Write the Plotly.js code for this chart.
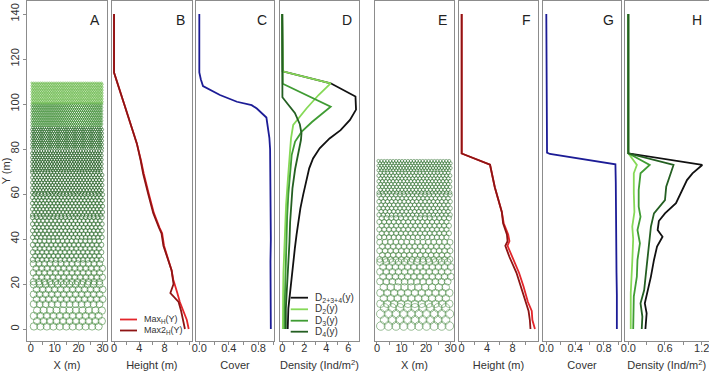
<!DOCTYPE html>
<html><head><meta charset="utf-8">
<script src="https://cdn.plot.ly/plotly-3.0.1.min.js"></script>
<style>html,body{margin:0;padding:0;background:#fff}#chart{width:709px;height:372px}</style>
</head><body><div id="chart"></div>
<script>
// ================= DATA =================
const yTickVals = [0, 20, 40, 60, 80, 100, 120, 140];
const xTicksStand = [0, 10, 20, 30];
const xTicksHeight = [0, 4, 8];
const xTicksCover = [0, 0.4, 0.8];
const xTextCover = ['0.0', '0.4', '0.8'];
const xTicksDens1 = [0, 2, 4, 6];
const xTicksDens2 = [0, 0.6, 1.2];
const xTextDens2 = ['0.0', '0.6', '1.2'];
const panelLabels = ['A', 'B', 'C', 'D', 'E', 'F', 'G', 'H'];
const axisTitles = ['X (m)', 'Height (m)', 'Cover', 'Density (Ind/m<sup>2</sup>)',
                    'X (m)', 'Height (m)', 'Cover', 'Density (Ind/m<sup>2</sup>)'];
const yTitle = 'Y (m)';

// Stand 1 (panel A): bands along Y, crown diameter (m), spacing (m)
const standA_y0 = [0, 10, 20, 30, 40, 50, 60, 70, 80, 90, 100];
const standA_y1 = [10, 20, 30, 40, 50, 60, 70, 80, 90, 100, 110];
const standA_diam = [3.2, 3.0, 2.8, 2.3, 2.0, 1.8, 1.5, 1.3, 1.1, 0.9, 0.7];
const standA_gap = [2.7, 2.5, 2.3, 1.9, 1.7, 1.5, 1.3, 1.1, 0.95, 0.85, 0.75];
// Stand 2 (panel E)
const standE_y0 = [0, 10, 20, 30, 40, 50, 60, 70];
const standE_y1 = [10, 20, 30, 40, 50, 60, 70, 75.5];
const standE_diam = [3.6, 3.2, 2.9, 2.5, 2.2, 1.9, 1.6, 1.3];
const standE_gap = [3.1, 2.8, 2.5, 2.2, 1.95, 1.7, 1.45, 1.2];

// Panel B: max heights
const yB = [140, 114, 100, 90, 82.5, 75, 69, 60, 51.5, 45, 42.5, 37, 31, 26, 22, 20, 16, 12, 8, 4, 0];
const maxH_B = [0, 0, 1.6, 2.8, 3.6, 4.25, 4.7, 5.5, 6.3, 7.2, 7.6, 7.9, 8.6, 9.1, 9.35, 9.6, 10.0, 10.4, 11.0, 11.5, 11.8];
const max2H_B = [0, 0, 1.6, 2.8, 3.6, 4.2, 4.6, 5.4, 6.2, 7.1, 7.5, 7.8, 8.5, 9.1, 9.3, 9.4, 8.9, 10.2, 10.6, 10.9, 11.2];

// Panel C: cover
const yC = [140, 114, 111, 108, 104, 101, 99.5, 98, 94, 90, 85, 80, 70, 60, 50, 40, 30, 20, 10, 0];
const coverC = [0, 0, 0.02, 0.05, 0.28, 0.51, 0.71, 0.78, 0.91, 0.93, 0.95, 0.96, 0.965, 0.97, 0.965, 0.97, 0.965, 0.97, 0.97, 0.97];

// Panel D: densities
const yD_tot = [140, 114.5, 109.2, 103.3, 97.5, 92.9, 88.4, 84.7, 80.3, 75.8, 71.4, 65.5, 59.6, 53.6, 47.7, 41.8, 35.9, 29.9, 24, 18.1, 9.2, 0];
const dD_tot = [0, 0.05, 4.4, 6.65, 6.7, 6.15, 5.3, 4.3, 3.4, 2.8, 2.45, 2.15, 1.9, 1.65, 1.45, 1.3, 1.15, 1.02, 0.87, 0.72, 0.56, 0.5];
const yD_2 = [140, 114.5, 109.2, 104, 98, 93.6, 90.7, 84.7, 77.3, 70, 65.5, 55, 48, 40, 32, 25, 15, 5, 0];
const dD_2 = [0, 0.05, 4.4, 3.3, 2.2, 1.45, 1.0, 0.8, 0.66, 0.58, 0.5, 0.35, 0.28, 0.2, 0.15, 0.11, 0.08, 0.06, 0.06];
const yD_3 = [140, 109, 98.8, 92, 87.7, 83.3, 77.3, 70, 60, 50, 40, 33, 25, 18, 10, 0];
const dD_3 = [0, 0.05, 4.4, 2.7, 1.77, 1.17, 0.86, 0.72, 0.56, 0.45, 0.38, 0.32, 0.29, 0.26, 0.22, 0.2];
const yD_4 = [140, 103, 100, 96, 91, 87, 84, 79, 71, 62.5, 55, 47.7, 38.8, 30, 18, 9, 0];
const dD_4 = [0, 0.02, 0.5, 1.15, 1.6, 1.75, 1.7, 1.47, 1.17, 0.93, 0.81, 0.72, 0.66, 0.56, 0.42, 0.33, 0.33];

// Panel F: max heights
const yF = [140, 78, 73, 63, 52, 47, 42, 39, 37, 32, 25, 19, 12, 8, 4, 0];
const maxH_F = [0, 0, 4.45, 5.2, 6.3, 6.6, 7.3, 7.5, 7.2, 8.0, 9.0, 9.7, 10.4, 11.0, 11.1, 11.5];
const max2H_F = [0, 0, 4.45, 5.2, 6.3, 6.5, 7.1, 7.2, 6.85, 7.5, 8.6, 9.3, 10.1, 10.5, 10.7, 10.8];

// Panel G: cover
const yG = [140, 79.6, 78.4, 77.8, 73.2, 65, 55, 45, 35, 25, 15, 5, 0];
const coverG = [0, 0, 0.01, 0.05, 0.96, 0.965, 0.965, 0.97, 0.975, 0.975, 0.98, 0.985, 0.98];

// Panel H: densities
const yH_tot = [140, 78.1, 72.9, 69.2, 66.2, 60.3, 55.9, 51.4, 48, 44, 41, 36.6, 30.7, 23.3, 15.9, 11.4, 7, 0];
const dH_tot = [0, 0, 1.21, 1.05, 0.96, 0.86, 0.78, 0.6, 0.5, 0.48, 0.56, 0.47, 0.42, 0.37, 0.31, 0.27, 0.3, 0.28];
const yH_4 = [140, 78.1, 72.9, 63.2, 57.3, 52.9, 51.4, 45.5, 42.5, 36.6, 27.7, 17.3, 13, 11.4, 5.5, 0];
const dH_4 = [0, 0, 0.74, 0.62, 0.6, 0.47, 0.42, 0.37, 0.36, 0.34, 0.3, 0.26, 0.22, 0.2, 0.23, 0.22];
const yH_3 = [140, 78.1, 72.9, 69.2, 61.8, 54.4, 49.9, 44, 38.1, 30.7, 23.3, 14.4, 0];
const dH_3 = [0, 0, 0.35, 0.2, 0.17, 0.17, 0.2, 0.15, 0.19, 0.15, 0.14, 0.09, 0.08];
const yH_2 = [140, 78.1, 72.9, 69.2, 60.3, 52, 45.5, 40, 30, 15.9, 0];
const dH_2 = [0, 0, 0.14, 0.09, 0.09, 0.1, 0.065, 0.08, 0.065, 0.04, 0.04];

const seriesNames = {
  maxH: 'Max<sub>H</sub>(Y)', max2H: 'Max2<sub>H</sub>(Y)',
  dTot: 'D<sub>2+3+4</sub>(y)', d2: 'D<sub>2</sub>(y)', d3: 'D<sub>3</sub>(y)', d4: 'D<sub>4</sub>(y)'
};

// ================= STYLE / LAYOUT =================
const W = 709, H = 372;
const M = {l: 27, r: 0, t: 1, b: 31};
const PW = W - M.l - M.r, PH = H - M.t - M.b;
const panelL = [27, 112, 196, 280, 375, 459, 543, 625];
const panelR = [107, 191.7, 274, 359, 454, 538, 621, 708.5];
const xRanges = [[-1.55, 31.88], [-0.32, 12.27], [-0.045, 1.013], [-0.2, 6.97],
                 [-0.81, 31.34], [-0.42, 11.98], [-0.046, 1.0375], [-0.054, 1.312]];
const yRange = [-5.33, 145.78];
const xTV = [xTicksStand, xTicksHeight, xTicksCover, xTicksDens1, xTicksStand, xTicksHeight, xTicksCover, xTicksDens2];
const xTT = [xTicksStand.map(String), xTicksHeight.map(String), xTextCover, xTicksDens1.map(String),
             xTicksStand.map(String), xTicksHeight.map(String), xTextCover, xTextDens2];
const minorStep = [5, 2, 0.2, 1, 5, 2, 0.2, 0.3];

const C = {
  frame: '#8c8c8c', text: '#333333',
  maxH: '#e3262b', max2H: '#8e1414', cover: '#1c1c96',
  dTot: '#111111', d2: '#86d957', d3: '#3f9c33', d4: '#245f22'
};
const standColA = ['#4e8f48', '#468843', '#3f803b', '#347434', '#2e6c2e', '#2a672a', '#266226', '#245f24', '#2a6a2a', '#3e8e34', '#66b846'];
const standColE = ['#4a8a45', '#4a8a45', '#458440', '#40803c', '#3a7a37', '#357535', '#317131', '#317131'];

function sfx(i) { return i === 0 ? '' : String(i + 1); }

function standTrace(y0s, y1s, diams, gaps, cols, pxPerM, axisIdx, name, lw) {
  const xs = [], ys = [], sz = [], cl = [];
  for (let b = 0; b < y0s.length; b++) {
    const g = gaps[b], rowH = g * 0.866;
    let k = 0;
    for (let y = y0s[b] + rowH / 2; y < y1s[b]; y += rowH, k++) {
      const off = (k % 2) ? g / 2 : 0;
      for (let x = g / 2 + off; x <= 30; x += g) {
        xs.push(x); ys.push(y); sz.push(diams[b] * pxPerM); cl.push(cols[b]);
      }
    }
  }
  return {type: 'scatter', mode: 'markers', x: xs, y: ys, name: name,
    xaxis: 'x' + sfx(axisIdx), yaxis: 'y' + sfx(axisIdx), hoverinfo: 'skip',
    marker: {symbol: 'circle-open', size: sz, color: cl, line: {width: lw}}};
}
function lineTrace(x, y, color, name, axisIdx) {
  return {type: 'scatter', mode: 'lines', x: x, y: y, name: name,
    xaxis: 'x' + sfx(axisIdx), yaxis: 'y' + sfx(axisIdx),
    line: {color: color, width: 1.8}, hoverinfo: 'skip'};
}

const traces = [
  standTrace(standA_y0, standA_y1, standA_diam, standA_gap, standColA, 2.33, 0, 'Stand 1', 0.9),
  lineTrace(maxH_B, yB, C.maxH, seriesNames.maxH, 1),
  lineTrace(max2H_B, yB, C.max2H, seriesNames.max2H, 1),
  lineTrace(coverC, yC, C.cover, 'Cover', 2),
  lineTrace(dD_tot, yD_tot, C.dTot, seriesNames.dTot, 3),
  lineTrace(dD_2, yD_2, C.d2, seriesNames.d2, 3),
  lineTrace(dD_3, yD_3, C.d3, seriesNames.d3, 3),
  lineTrace(dD_4, yD_4, C.d4, seriesNames.d4, 3),
  standTrace(standE_y0, standE_y1, standE_diam, standE_gap, standColE, 2.38, 4, 'Stand 2', 0.8),
  lineTrace(maxH_F, yF, C.maxH, seriesNames.maxH, 5),
  lineTrace(max2H_F, yF, C.max2H, seriesNames.max2H, 5),
  lineTrace(coverG, yG, C.cover, 'Cover', 6),
  lineTrace(dH_tot, yH_tot, C.dTot, seriesNames.dTot, 7),
  lineTrace(dH_2, yH_2, C.d2, seriesNames.d2, 7),
  lineTrace(dH_3, yH_3, C.d3, seriesNames.d3, 7),
  lineTrace(dH_4, yH_4, C.d4, seriesNames.d4, 7)
];

const font = 'Liberation Sans, Arial, sans-serif';
const layout = {
  width: W, height: H, margin: M, showlegend: false,
  paper_bgcolor: '#ffffff', plot_bgcolor: '#ffffff',
  font: {family: font, size: 11, color: C.text},
  annotations: [], shapes: []
};

for (let i = 0; i < 8; i++) {
  layout['xaxis' + sfx(i)] = {
    domain: [(panelL[i] - M.l) / PW, Math.min(1, (panelR[i] - M.l) / PW)],
    range: xRanges[i], anchor: 'y' + sfx(i),
    showline: true, mirror: true, linecolor: C.frame, linewidth: 1,
    ticks: 'outside', ticklen: 3, tickcolor: C.frame, tickwidth: 1,
    tickmode: 'array', tickvals: xTV[i], ticktext: xTT[i],
    minor: {tick0: 0, dtick: minorStep[i], ticks: 'outside', ticklen: 3, tickcolor: C.frame, tickwidth: 1, showgrid: false},
    ticklabelstandoff: -6, ticklabeloverflow: 'allow',
    showgrid: false, zeroline: false, fixedrange: true,
    tickfont: {family: font, size: 11, color: C.text},
    title: {text: axisTitles[i], font: {family: font, size: 11, color: C.text}, standoff: 8}
  };
  const ya = {
    domain: [0, 1], range: yRange, anchor: 'x' + sfx(i),
    showline: true, mirror: true, linecolor: C.frame, linewidth: 1,
    showgrid: false, zeroline: false, fixedrange: true,
    ticks: i === 0 ? 'outside' : '', showticklabels: i === 0,
    ticklen: 3, tickcolor: C.frame, tickmode: 'array', tickvals: yTickVals,
    tickangle: -90, tickfont: {family: font, size: 11, color: C.text}
  };
  if (i === 0) ya.title = {text: yTitle, font: {family: font, size: 11, color: C.text}, standoff: 2};
  layout['yaxis' + sfx(i)] = ya;
  layout.annotations.push({
    text: panelLabels[i], showarrow: false,
    xref: 'x' + sfx(i) + ' domain', yref: 'y' + sfx(i) + ' domain',
    x: 1, y: 1, xanchor: 'right', yanchor: 'top', xshift: -5, yshift: -9,
    font: {family: font, size: 14, color: '#222'}
  });
}

function pX(px) { return (px - M.l) / PW; }
function pY(py) { return (H - M.b - py) / PH; }
function addLegend(entries, x0, x1, xt, fsize) {
  entries.forEach(e => {
    layout.shapes.push({type: 'line', xref: 'paper', yref: 'paper',
      x0: pX(x0), x1: pX(x1), y0: pY(e.py), y1: pY(e.py),
      line: {color: e.color, width: 1.8}});
    layout.annotations.push({text: e.name, showarrow: false, xref: 'paper', yref: 'paper',
      x: pX(xt), y: pY(e.py), xanchor: 'left', yanchor: 'middle', borderpad: 0,
      font: {family: font, size: fsize, color: C.text}});
  });
}
addLegend([{name: seriesNames.maxH, color: C.maxH, py: 319.5},
           {name: seriesNames.max2H, color: C.max2H, py: 330.5}], 120, 137, 143, 9);
addLegend([{name: seriesNames.dTot, color: C.dTot, py: 297.7},
           {name: seriesNames.d2, color: C.d2, py: 309.3},
           {name: seriesNames.d3, color: C.d3, py: 320.7},
           {name: seriesNames.d4, color: C.d4, py: 331.7}], 290.7, 308, 314, 10);

Plotly.newPlot('chart', traces, layout, {staticPlot: true, displayModeBar: false});
</script></body></html>
